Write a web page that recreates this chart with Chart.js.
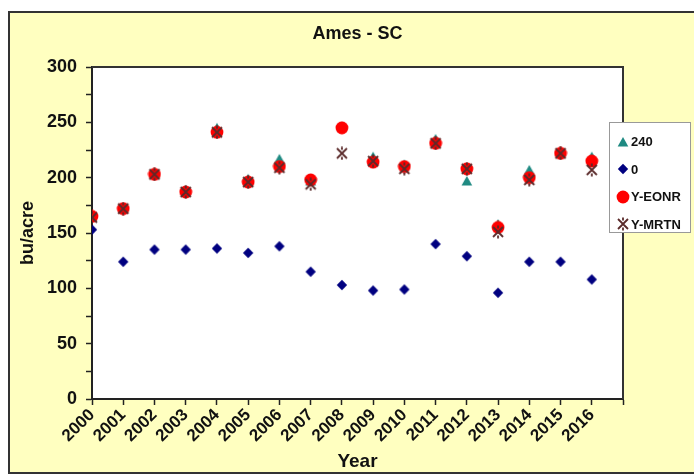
<!DOCTYPE html>
<html>
<head>
<meta charset="utf-8">
<script src="https://cdn.jsdelivr.net/npm/chart.js@4.4.1/dist/chart.umd.min.js"></script>
<style>
    html, body { margin: 0; padding: 0; background: #fff; overflow: hidden; }
    body { width: 694px; height: 475px; position: relative; font-family: "Liberation Sans", Arial, sans-serif; }
    #frame { position: absolute; left: 8px; top: 11px; width: 684px; height: 459px; background: #ffffc0; border-left: 2px solid #333; border-top: 2px solid #333; border-bottom: 2px solid #333; }
    #chart { position: absolute; left: 0; top: 0; }
    #legend { position: absolute; left: 609px; top: 122px; width: 82px; height: 111px; background: #fff; border: 1px solid #999; box-sizing: border-box; padding-top: 5px; }
    .item { height: 27.5px; display: flex; align-items: center; font-weight: bold; font-size: 13px; color: #111; }
    .item canvas { margin-left: 6px; margin-right: 1px; }
</style>
</head>
<body>
<div id="frame"></div>
<canvas id="chart" width="694" height="475"></canvas>
<div id="legend"></div>
<script>
// Data
const years = [2000, 2001, 2002, 2003, 2004, 2005, 2006, 2007, 2008, 2009, 2010, 2011, 2012, 2013, 2014, 2015, 2016];
const seriesNames = ['240', '0', 'Y-EONR', 'Y-MRTN'];
const yield240 = [165, 172, 204, 189, 245, 199, 217, 197, 246, 219, 212, 235, 197, 158, 207, 224, 219];
const yield0 = [153, 124, 135, 135, 136, 132, 138, 115, 103, 98, 99, 140, 129, 96, 124, 124, 108];
const yieldEONR = [165, 172, 203, 187, 241, 196, 210, 198, 245, 214, 210, 231, 208, 155, 200, 222, 215];
const yieldMRTN = [164, 172, 203, 187, 241, 196, 209, 194, 222, 215, 208, 231, 208, 151, 198, 222, 207];
const yTicks = [0, 50, 100, 150, 200, 250, 300];

// Marker images, shared by the chart and the legend
function makeMarker(shape, color) {
    const c = document.createElement('canvas');
    const s = 14;
    c.width = s; c.height = s;
    const ctx = c.getContext('2d');
    ctx.fillStyle = color;
    ctx.strokeStyle = color;
    ctx.beginPath();
    if (shape === 'triangle') {
        ctx.moveTo(7, 2); ctx.lineTo(12.3, 11.5); ctx.lineTo(1.7, 11.5); ctx.closePath(); ctx.fill();
    } else if (shape === 'diamond') {
        ctx.moveTo(7, 1.8); ctx.lineTo(12.2, 7); ctx.lineTo(7, 12.2); ctx.lineTo(1.8, 7); ctx.closePath(); ctx.fill();
    } else if (shape === 'circle') {
        ctx.arc(7, 7, 6.4, 0, Math.PI * 2); ctx.fill();
    } else {
        ctx.lineWidth = 1.8;
        ctx.moveTo(2, 2); ctx.lineTo(12, 12);
        ctx.moveTo(12, 2); ctx.lineTo(2, 12);
        ctx.moveTo(7, 0.5); ctx.lineTo(7, 3.5);
        ctx.moveTo(7, 10.5); ctx.lineTo(7, 13.5);
        ctx.stroke();
    }
    return c;
}

const markers = [
    makeMarker('triangle', '#1f8a82'),
    makeMarker('diamond', '#000080'),
    makeMarker('circle', '#ff0000'),
    makeMarker('star', '#5a2a2a')
];

function toPoints(values) {
    return values.map((v, i) => ({ x: years[i], y: v }));
}

// white plot area with dark frame on top and right
const plotFrame = {
    id: 'plotFrame',
    beforeDraw(chart) {
        const { ctx, chartArea: a } = chart;
        ctx.save();
        ctx.fillStyle = '#ffffff';
        ctx.fillRect(a.left, a.top, a.right - a.left, a.bottom - a.top);
        ctx.restore();
    },
    beforeDatasetsDraw(chart) {
        const { ctx, chartArea: a } = chart;
        ctx.save();
        ctx.strokeStyle = '#333';
        ctx.lineWidth = 2;
        ctx.beginPath();
        ctx.moveTo(a.left, a.top);
        ctx.lineTo(a.right, a.top);
        ctx.lineTo(a.right, a.bottom);
        ctx.stroke();
        ctx.restore();
    }
};

const allSeries = [yield240, yield0, yieldEONR, yieldMRTN];
const datasets = allSeries.map((vals, i) => ({
    label: seriesNames[i],
    data: toPoints(vals),
    pointStyle: markers[i],
    order: 3 - i
}));

Chart.defaults.font.family = '"Liberation Sans", Arial, sans-serif';
Chart.defaults.font.weight = 'bold';
Chart.defaults.color = '#111';

new Chart(document.getElementById('chart'), {
    type: 'scatter',
    data: { datasets: datasets },
    options: {
        responsive: false,
        animation: false,
        events: [],
        layout: { padding: { left: 0, right: 71, top: 0, bottom: 0 } },
        plugins: {
            legend: { display: false },
            tooltip: { enabled: false },
            title: {
                display: true,
                text: 'Ames - SC',
                fullSize: false,
                font: { size: 18, weight: 'bold' },
                color: '#111',
                padding: { top: 23, bottom: 22.4 }
            }
        },
        scales: {
            x: {
                type: 'linear',
                min: 2000,
                max: 2017,
                afterFit(scale) { scale.height = 76; },
                border: { display: true, color: '#222', width: 2 },
                grid: { drawOnChartArea: false, drawTicks: true, tickLength: 6, tickColor: '#222', tickWidth: 1.5 },
                ticks: {
                    stepSize: 1,
                    autoSkip: false,
                    minRotation: 45,
                    maxRotation: 45,
                    padding: 0,
                    font: { size: 17, weight: 'bold' },
                    callback: (v) => years.includes(v) ? String(v) : ''
                },
                title: { display: true, text: 'Year', font: { size: 19, weight: 'bold' }, padding: { top: 0, bottom: 2 } }
            },
            y: {
                min: 0,
                max: 300,
                afterFit(scale) { scale.width = 92; },
                border: { display: true, color: '#222', width: 2 },
                grid: { drawOnChartArea: false, drawTicks: true, tickLength: 6, tickColor: '#222', tickWidth: 1.5 },
                ticks: {
                    stepSize: 25,
                    padding: 9,
                    font: { size: 18, weight: 'bold' },
                    callback: (v) => yTicks.includes(v) ? String(v) : ''
                },
                title: { display: true, text: 'bu/acre', font: { size: 18, weight: 'bold' }, padding: { top: 17, bottom: 0 } }
            }
        }
    },
    plugins: [plotFrame]
});

// legend built from the series names and the same marker images
const legend = document.getElementById('legend');
seriesNames.forEach((name, i) => {
    const row = document.createElement('div');
    row.className = 'item';
    const icon = document.createElement('canvas');
    icon.width = 14; icon.height = 14;
    icon.getContext('2d').drawImage(markers[i], 0, 0);
    const label = document.createElement('span');
    label.textContent = name;
    row.appendChild(icon);
    row.appendChild(label);
    legend.appendChild(row);
});
</script>
</body>
</html>
